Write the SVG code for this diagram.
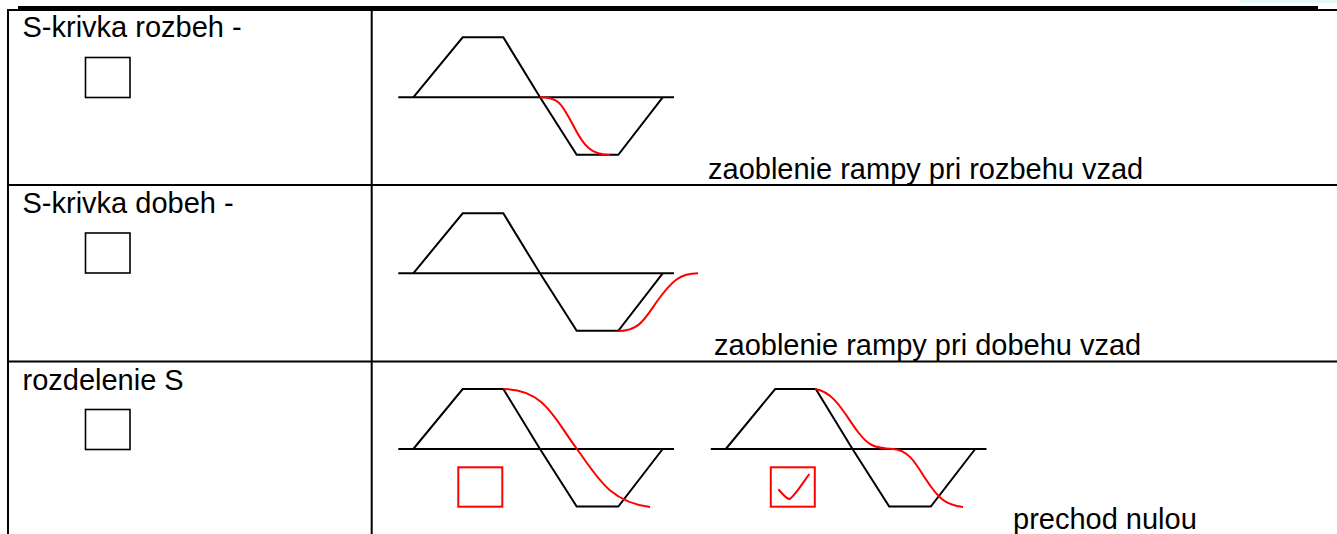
<svg xmlns="http://www.w3.org/2000/svg" width="1337" height="534" viewBox="0 0 1337 534">
<style>
.grid{stroke:#000;stroke-width:2;fill:none}
.lbl{font-family:"Liberation Sans",Arial,sans-serif;font-size:29px;fill:#000}
.box{fill:none;stroke:#000;stroke-width:1.6}
.ax{stroke:#000;stroke-width:2;fill:none}
.red{stroke:#f00;stroke-width:2;fill:none}
</style>
<defs>
<g id="ramp">
<line class="ax" x1="398.3" y1="0" x2="674" y2="0"/>
<polyline class="ax" points="413.3,0 462.7,-60 503.3,-60 540,0 576.7,57.5 618.3,57.5 662.7,0"/>
</g>
</defs>
<rect x="1240" y="0" width="97" height="3" fill="#e6f7f9"/>
<g id="table">
<line x1="18" y1="8.5" x2="1318" y2="8.5" stroke="#000" stroke-width="5"/>
<line class="grid" x1="7" y1="10" x2="1337" y2="10"/>
<line class="grid" x1="8" y1="9" x2="8" y2="534"/>
<line class="grid" x1="371.7" y1="9" x2="371.7" y2="534"/>
<line class="grid" x1="8" y1="185" x2="1337" y2="185"/>
<line class="grid" x1="8" y1="361.5" x2="1337" y2="361.5"/>
</g>
<g id="row1">
<text class="lbl" x="22.5" y="36.5">S-krivka rozbeh -</text>
<rect class="box" x="85.5" y="57.5" width="44.5" height="40"/>
<use href="#ramp" transform="translate(0,97.3)"/>
<path class="red" d="M540,97.3 C560,97.3 562,105 573,125 C584,147 592,155 610,155"/>
<text class="lbl" x="708" y="179">zaoblenie rampy pri rozbehu vzad</text>
</g>
<g id="row2">
<text class="lbl" x="22.5" y="212.5">S-krivka dobeh -</text>
<rect class="box" x="85.5" y="233" width="44.5" height="40"/>
<use href="#ramp" transform="translate(0,273.3)"/>
<path class="red" d="M618.3,331 C640,331 645,318 658,300 C672,281 680,273.3 698,273.3"/>
<text class="lbl" x="714" y="355">zaoblenie rampy pri dobehu vzad</text>
</g>
<g id="row3">
<text class="lbl" x="22.5" y="389.5">rozdelenie S</text>
<rect class="box" x="85.5" y="409.5" width="44.5" height="40"/>
<use href="#ramp" transform="translate(0,449)"/>
<path class="red" d="M503.3,389 C545,389 555,420 577,449 C598,478 610,502 650,507"/>
<rect class="red" x="458.3" y="467.3" width="44" height="39.4"/>
<use href="#ramp" transform="translate(312.5,449)"/>
<path class="red" d="M815,389 C835,392 845,415 858,432 C868,445 873,448 893,449 C908,450 915,462 925,478 C938,498 945,505 963,507"/>
<rect class="red" x="770.8" y="467.3" width="44" height="39.4"/>
<path class="red" d="M778.3,489.3 C783,494 786,499 789.5,499 C793,498 800,487 809.3,474"/>
<text class="lbl" x="1013" y="529">prechod nulou</text>
</g>
</svg>
